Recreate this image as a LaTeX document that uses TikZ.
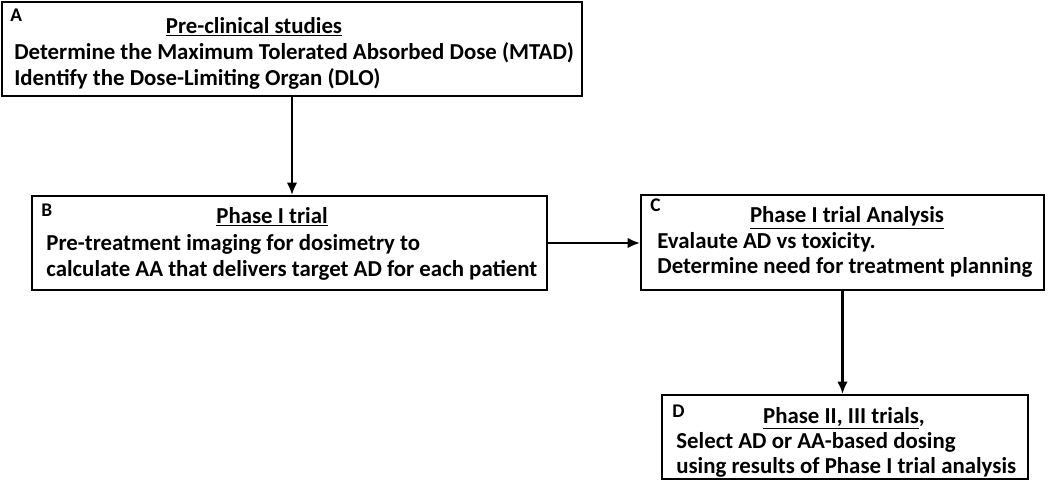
\documentclass[tikz,border=0pt]{standalone}
\usepackage{fontspec}
\setmainfont{Carlito}
\usetikzlibrary{arrows.meta,positioning}

\begin{document}
\begin{tikzpicture}
		[x=0.02cm, y=-0.02cm,
		stage/.style ={rectangle, draw=black, line width=1.2pt, inner sep=0pt},
		tag/.style ={font=\bfseries\fontsize{11}{12}\selectfont, inner sep=0pt, anchor=base west},
		head/.style ={font=\bfseries\fontsize{13}{15}\selectfont, inner sep=0pt, anchor=base},
		body/.style ={font=\bfseries\fontsize{13}{15}\selectfont, inner sep=0pt, anchor=base west},
		line/.style ={draw, line width=1.2pt, -{Latex[length=7pt,width=6pt]}}]
		\useasboundingbox (0,0) rectangle (1050,490);

		% boxes
		\node[stage, minimum width=11.6cm, minimum height=1.88cm] (preclin) at (292,49) {};
		\node[stage, minimum width=10.3cm, minimum height=1.88cm] (phaseone) at (289.5,243) {};
		\node[stage, minimum width=8.06cm, minimum height=1.9cm] (analysis) at (842.5,242.5) {};
		\node[stage, minimum width=7.32cm, minimum height=1.68cm] (later) at (845,437) {};

		% A
		\node[tag] (tagA) at (10,21) {A};
		\node[head] (headA) at (254,33) {\underline{Pre-clinical studies}};
		\node[body] (bodyA1) at (14,59) {Determine the Maximum Tolerated Absorbed Dose (MTAD)};
		\node[body] (bodyA2) at (14,85) {Identify the Dose-Limiting Organ (DLO)};

		% B
		\node[tag] (tagB) at (41,216) {B};
		\node[head] (headB) at (272,223) {\underline{Phase I trial}};
		\node[body] (bodyB1) at (46,250) {Pre-treatment imaging for dosimetry to};
		\node[body] (bodyB2) at (46,276) {calculate AA that delivers target AD for each patient};

		% C
		\node[tag] (tagC) at (650,211) {C};
		\node[head] (headC) at (847,222) {\underline{Phase I trial Analysis}};
		\node[body] (bodyC1) at (657,248) {Evalaute AD vs toxicity.};
		\node[body] (bodyC2) at (657,273) {Determine need for treatment planning};

		% D
		\node[tag] (tagD) at (672,417) {D};
		\node[head] (headD) at (844,423) {\underline{Phase II, III trials},};
		\node[body] (bodyD1) at (676,448) {Select AD or AA-based dosing};
		\node[body] (bodyD2) at (676,473) {using results of Phase I trial analysis};

		% arrows
		\path[line] (preclin.south) -- (preclin.south |- phaseone.north);
		\path[line] (phaseone.east) -- (phaseone.east -| analysis.west);
		\path[line] (analysis.south) -- (analysis.south |- later.north);

	\end{tikzpicture}
\end{document}
